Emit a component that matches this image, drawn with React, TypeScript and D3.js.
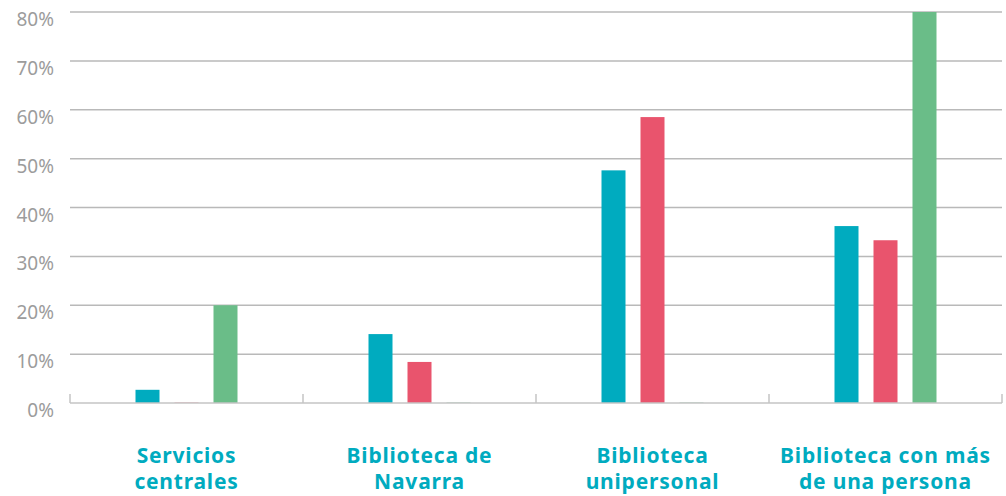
import { useEffect, useRef } from 'react';
import * as d3 from 'd3';

const categories = [
  ['Servicios', 'centrales'],
  ['Biblioteca de', 'Navarra'],
  ['Biblioteca', 'unipersonal'],
  ['Biblioteca con más', 'de una persona'],
];
const seriesTeal = [2.7, 14.1, 47.6, 36.2];
const seriesRed = [0, 8.4, 58.5, 33.3];
const seriesGreen = [20, 0, 0, 80];
const yTicks = [0, 10, 20, 30, 40, 50, 60, 70, 80];
const colors = ['#00abbf', '#e9546d', '#6abd88'];

export default function App() {
  const svgRef = useRef<SVGSVGElement>(null);

  useEffect(() => {
    if (!svgRef.current) return;
    const svg = d3.select(svgRef.current);
    svg.selectAll('*').remove();

    const left = 70, right = 1002, top = 12, bottom = 403;
    const font = "'Noto Sans', 'Open Sans', sans-serif";

    const x = d3.scaleBand<number>()
      .domain(categories.map((_, i) => i))
      .range([left, right]);
    const y = d3.scaleLinear().domain([0, 80]).range([bottom, top]);

    // gridlines
    svg.append('g')
      .selectAll('line')
      .data(yTicks.filter(t => t > 0))
      .enter().append('line')
      .attr('x1', left).attr('x2', right)
      .attr('y1', d => y(d)).attr('y2', d => y(d))
      .attr('stroke', '#b9b9b9').attr('stroke-width', 1.5);

    // y labels
    svg.append('g')
      .selectAll('text')
      .data(yTicks)
      .enter().append('text')
      .attr('x', 54)
      .attr('y', d => y(d) + 14)
      .attr('text-anchor', 'end')
      .attr('font-family', font)
      .attr('font-size', 19)
      .attr('fill', '#9c9c9c')
      .text(d => `${d}%`);

    // bars
    const series = [seriesTeal, seriesRed, seriesGreen];
    const groupW = 102;
    const inner = d3.scaleBand<number>().domain([0, 1, 2]).range([0, groupW]).paddingInner(15 / 39);
    const offset = (x.bandwidth() - groupW) / 2;
    series.forEach((vals, s) => {
      svg.append('g')
        .selectAll('rect')
        .data(vals)
        .enter().append('rect')
        .attr('x', (_, i) => (x(i) as number) + offset + (inner(s) as number))
        .attr('width', inner.bandwidth())
        .attr('y', d => y(d) - (d === 0 ? 1 : 0))
        .attr('height', d => Math.max(1, bottom - y(d)))
        .attr('fill', colors[s])
        .attr('opacity', d => (d === 0 ? 0.35 : 1));
    });

    // baseline + ticks
    svg.append('line')
      .attr('x1', left).attr('x2', right)
      .attr('y1', bottom).attr('y2', bottom)
      .attr('stroke', '#c4c4c4').attr('stroke-width', 1.5);
    const bounds = categories.map((_, i) => x(i) as number).concat([right]);
    svg.append('g')
      .selectAll('line')
      .data(bounds)
      .enter().append('line')
      .attr('x1', d => d).attr('x2', d => d)
      .attr('y1', bottom - 9).attr('y2', bottom)
      .attr('stroke', '#c4c4c4').attr('stroke-width', 1.5);

    // category labels
    const labels = svg.append('g')
      .selectAll('text')
      .data(categories)
      .enter().append('text')
      .attr('x', (_, i) => (x(i) as number) + x.bandwidth() / 2)
      .attr('y', 463)
      .attr('text-anchor', 'middle')
      .attr('font-family', font)
      .attr('font-weight', 'bold')
      .attr('font-size', 21)
      .attr('letter-spacing', 0.8)
      .attr('fill', '#00abbf');
    labels.append('tspan').text(d => d[0]);
    labels.append('tspan')
      .attr('x', (_, i) => (x(i) as number) + x.bandwidth() / 2)
      .attr('dy', 26)
      .text(d => d[1]);
  }, []);

  return (
    <svg
      ref={svgRef}
      width={1006}
      height={496}
      style={{ position: 'absolute', left: 0, top: 0, background: '#fff' }}
    />
  );
}
